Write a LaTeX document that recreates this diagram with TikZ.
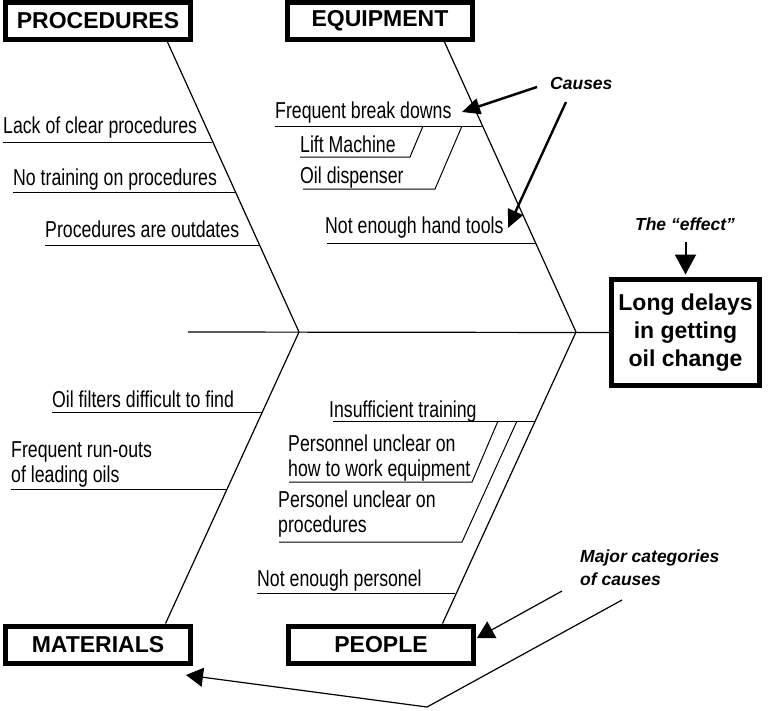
\documentclass[tikz,border=0pt]{standalone}
\usepackage{fontspec}
\setmainfont{Liberation Sans}
\newfontfamily\narrowsans[FakeStretch=0.77]{Liberation Sans}
\usetikzlibrary{arrows.meta}

\tikzset{
  catbox/.style={draw, line width=5pt, minimum width=185pt, minimum height=37pt,
    inner sep=0pt, font=\fontsize{23}{26}\selectfont\bfseries},
  effectbox/.style={draw, line width=5pt, minimum width=148pt, minimum height=106pt,
    inner sep=0pt, align=center, font=\fontsize{23}{28}\selectfont\bfseries},
  cause/.style={anchor=base west, inner sep=0pt, font=\narrowsans\fontsize{23}{25}\selectfont},
  note/.style={anchor=base west, inner sep=0pt, font=\fontsize{17.5}{20}\selectfont\bfseries\itshape},
  bone/.style={line width=1.2pt},
  twig/.style={line width=1pt},
  pointer/.style={line width=2.4pt, -{Triangle[length=18pt,width=16pt]}},
  effpointer/.style={line width=2pt, -{Triangle[length=20pt,width=21pt]}},
  thinpointer/.style={line width=1.2pt, -{Triangle[length=17pt,width=19pt]}},
}

\begin{document}
\begin{tikzpicture}[x=1pt, y=-1pt]
\useasboundingbox (0,0) rectangle (773,710);

% category boxes and the effect
\node[catbox] (proc)   at (98,21)    {PROCEDURES};
\node[catbox] (equip)  at (380,21)   {EQUIPMENT};
\node[catbox] (mat)    at (98,644.5) {MATERIALS};
\node[catbox] (people) at (381,644.5){PEOPLE};
\node[effectbox] (eff) at (685.5,332.5) {Long delays\\in getting\\oil change};

% skeleton
\coordinate (tail) at (188,332);
\coordinate (jP) at (299,332);
\coordinate (jE) at (576,332);
\draw[bone] (tail) -- (eff.west);
\draw[bone] ([xshift=-25.5pt]proc.south east) -- (jP);
\draw[bone] ([xshift=-30.5pt]equip.south east) -- (jE);
\draw[bone] (jP) -- ([xshift=-27.5pt]mat.north east);
\draw[bone] (jE) -- ([xshift=-33.5pt]people.north east);

% procedures
\node[cause] (lack)  at (3,133)  {Lack of clear procedures};
\node[cause] (notr)  at (13,185) {No training on procedures};
\node[cause] (outd)  at (45,237) {Procedures are outdates};
\draw[twig] (3,142) -- (212,142);
\draw[twig] (13,192) -- (234.9,192);
\draw[twig] (45,245) -- (259.1,245);

% equipment
\node[cause] (freq)  at (275,118) {Frequent break downs};
\node[cause] (lift)  at (300,152) {Lift Machine};
\node[cause] (oild)  at (300,183) {Oil dispenser};
\node[cause] (tools) at (325,233) {Not enough hand tools};
\draw[twig] (275,126) -- (481.6,126);
\draw[twig] (300,157) -- (410,157) -- (423,126);
\draw[twig] (303,189) -- (435,189) -- (462,126);
\draw[twig] (327,243) -- (535.2,243);

% materials
\node[cause] (filt)  at (52,407) {Oil filters difficult to find};
\node[cause] (run1)  at (11,457) {Frequent run-outs};
\node[cause] (run2)  at (11,482) {of leading oils};
\draw[twig] (52,412) -- (262,412);
\draw[twig] (11,489) -- (226.4,489);

% people
\node[cause] (insuf) at (329,417) {Insufficient training};
\node[cause] (pe1a)  at (288,451) {Personnel unclear on};
\node[cause] (pe1b)  at (288,476) {how to work equipment};
\node[cause] (pe2a)  at (278,507) {Personel unclear on};
\node[cause] (pe2b)  at (278,532) {procedures};
\node[cause] (staff) at (257,586) {Not enough personel};
\draw[twig] (333,421) -- (534.8,421);
\draw[twig] (289,482) -- (472,482) -- (498,421);
\draw[twig] (279,542) -- (462,542) -- (517,421);
\draw[twig] (257,593) -- (455.2,593);

% annotations
\node[note] (causes) at (550,89) {Causes};
\node[note, anchor=base] (effnote) at (685,230) {The “effect”};
\node[note] (major1) at (580,562) {Major categories};
\node[note] (major2) at (580,585) {of causes};

\coordinate (c1) at (537,87);
\coordinate (c2) at (566,102);
\coordinate (t1) at (462,112);
\coordinate (t2) at (508,228);
\draw[pointer] (c1) -- (t1);
\draw[pointer] (c2) -- (t2);

\coordinate (e1) at (685.5,242);
\draw[effpointer] (e1) -- ([yshift=2.5pt]eff.north);

\coordinate (m1) at (562,591);
\coordinate (m2) at (622,600);
\coordinate (mk) at (427,707);
\draw[thinpointer] (m1) -- (477,638);
\draw[thinpointer] (m2) -- (mk) -- (186,675);
\end{tikzpicture}
\end{document}
